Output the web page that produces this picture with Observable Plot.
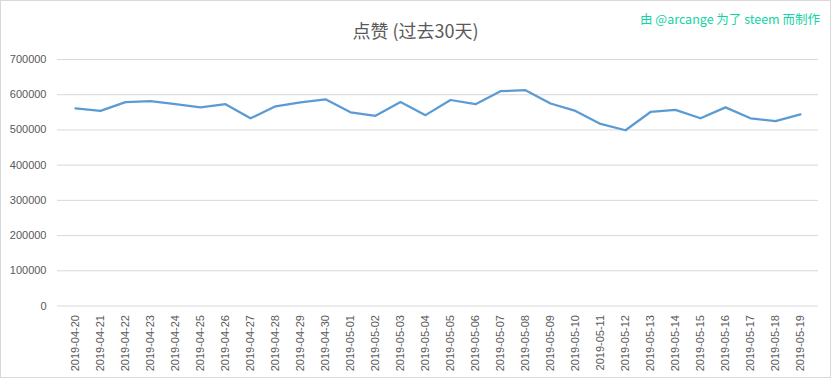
<!DOCTYPE html>
<html>
<head>
<meta charset="utf-8">
<script src="https://cdn.jsdelivr.net/npm/d3@7"></script>
<script src="https://cdn.jsdelivr.net/npm/@observablehq/plot@0.6"></script>
<style>
  html, body { margin: 0; padding: 0; background: #fff; }
  #wrap { position: relative; width: 829px; height: 376px; border: 1px solid #d9d9d9; background: #fff; }
  #title { position: absolute; left: 0; width: 829px; top: 17px; text-align: center; font-family: "Noto Sans CJK SC", "Liberation Sans", sans-serif; font-size: 18px; color: #595959; line-height: 24px; }
  #credit { position: absolute; left: 639px; top: 9px; font-family: "Noto Sans CJK SC", "DejaVu Sans", sans-serif; font-size: 12.5px; color: #14d2a4; white-space: nowrap; line-height: 18px; }
  #chart { position: absolute; left: 0; top: 0; }
</style>
</head>
<body>
<div id="wrap">
  <div id="chart"></div>
  <div id="title">点赞 (过去30天)</div>
  <div id="credit">由 @arcange 为了 steem 而制作</div>
</div>
<script>
const dates = [
  "2019-04-20","2019-04-21","2019-04-22","2019-04-23","2019-04-24","2019-04-25",
  "2019-04-26","2019-04-27","2019-04-28","2019-04-29","2019-04-30","2019-05-01",
  "2019-05-02","2019-05-03","2019-05-04","2019-05-05","2019-05-06","2019-05-07",
  "2019-05-08","2019-05-09","2019-05-10","2019-05-11","2019-05-12","2019-05-13",
  "2019-05-14","2019-05-15","2019-05-16","2019-05-17","2019-05-18","2019-05-19"
];
const votes = [
  561000, 554000, 579000, 582000, 573000, 564000,
  573000, 533000, 567000, 578000, 587000, 550000,
  540000, 579000, 542000, 585000, 573000, 610000,
  613000, 575000, 554000, 517000, 499000, 551000,
  557000, 533000, 564000, 533000, 525000, 544000
];
const yTicks = [0, 100000, 200000, 300000, 400000, 500000, 600000, 700000];

const data = dates.map((d, i) => ({date: d, value: votes[i]}));

const chart = Plot.plot({
  width: 829,
  height: 376,
  marginLeft: 56,
  marginRight: 12,
  marginTop: 58,
  marginBottom: 71.5,
  style: {fontFamily: "'Liberation Sans', Arial, sans-serif", fontSize: "11px", color: "#595959", background: "transparent"},
  x: {type: "point", domain: dates, padding: 0.5, label: null},
  y: {domain: [0, 700000], label: null},
  marks: [
    Plot.ruleY(yTicks, {stroke: "#d9d9d9", strokeWidth: 1, strokeOpacity: 1}),
    Plot.axisY({ticks: yTicks, tickSize: 0, tickPadding: 11, tickFormat: d => String(d), fill: "#595959", fontSize: 11}),
    Plot.axisX({tickSize: 0, tickPadding: 9, tickRotate: -90, fill: "#595959", fontSize: 11}),
    Plot.line(data, {x: "date", y: "value", stroke: "#5b9bd5", strokeWidth: 2.25, strokeLinejoin: "round"})
  ]
});
document.getElementById("chart").appendChild(chart);
</script>
</body>
</html>
